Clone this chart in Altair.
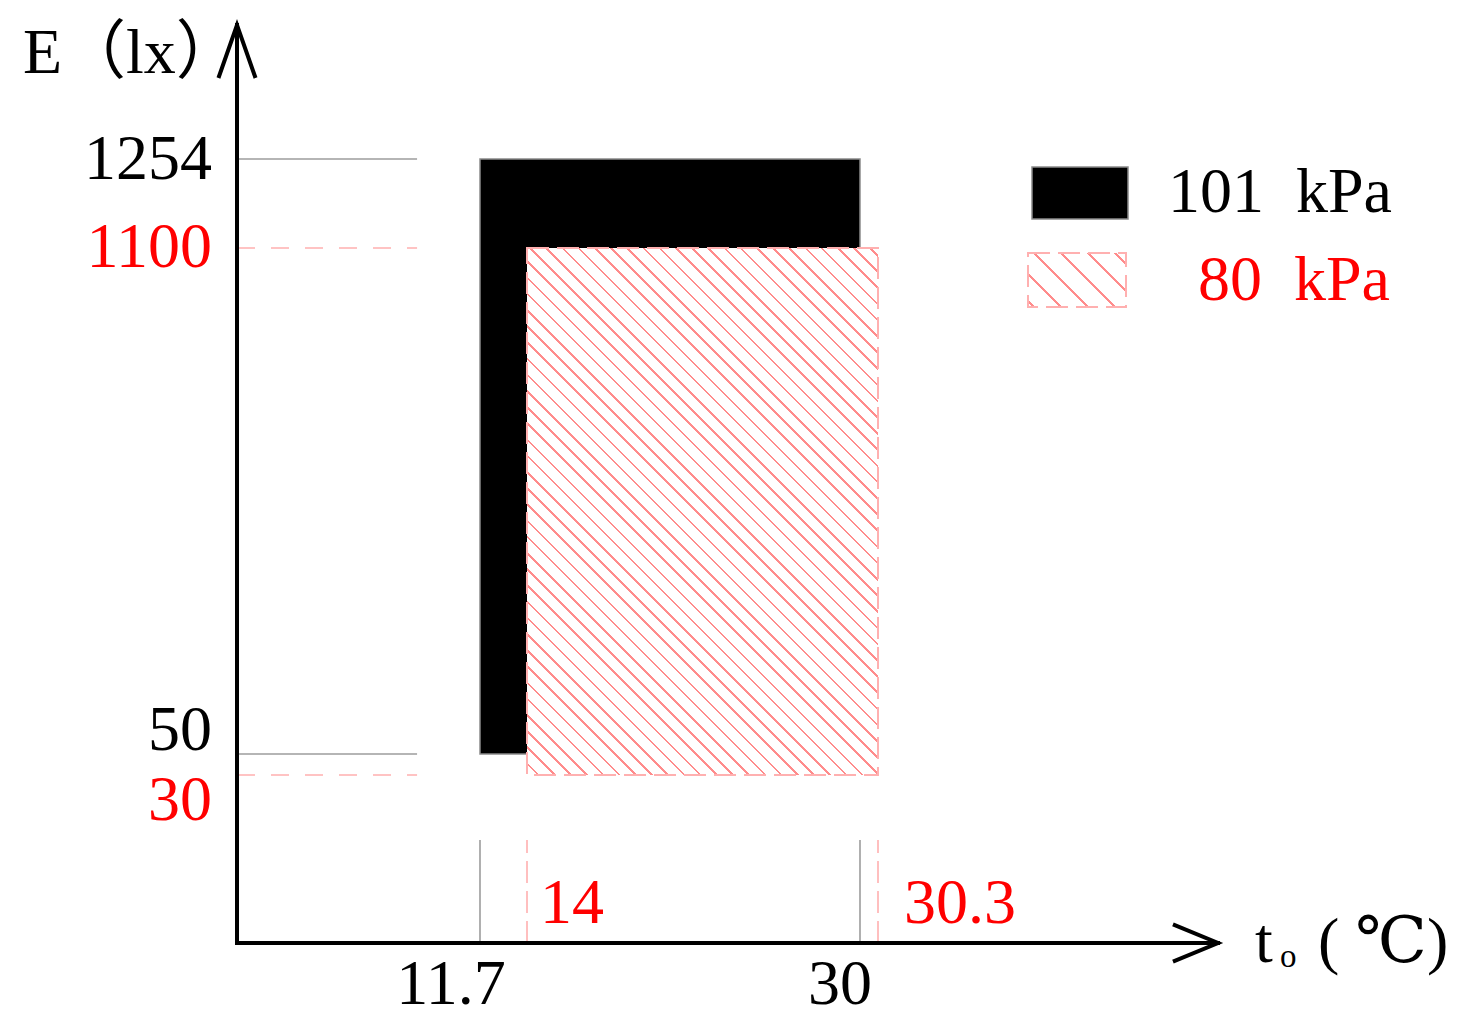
import math
import altair as alt
import pandas as pd

# ---------------- data ----------------
SERIES = ["101 kPa", "80 kPa"]
T_LOW = [11.7, 14.0]      # t_o lower bound (℃)
T_HIGH = [30.0, 30.3]     # t_o upper bound (℃)
E_LOW = [50, 30]          # E lower bound (lx)
E_HIGH = [1254, 1100]     # E upper bound (lx)

Y_TICK_VALUES = [1254, 1100, 50, 30]
Y_TICK_LABELS = ["1254", "1100", "50", "30"]
X_TICK_VALUES = [11.7, 14, 30, 30.3]
X_TICK_LABELS = ["11.7", "14", "30", "30.3"]

Y_TITLE = "E（lx）"
X_TITLE_MAIN = "t"
X_TITLE_SUB = "o"
X_TITLE_UNIT = "( ℃)"

# schematic (non-proportional) axes -> piecewise linear scales
AXIS_X_END = 46
AXIS_Y_END = 1400
X_BREAKS = [0, 11.7, 14, 30, 30.3, AXIS_X_END]
X_PIX = [229, 472, 519, 852, 870, 1210]
Y_BREAKS = [0, 30, 50, 1100, 1254, AXIS_Y_END]
Y_PIX = [935, 767, 746, 240, 151, 17]
LEADER_X_END = 8.67
LEADER_Y_END = 18.4

# ---------------- style ----------------
FONT = "Liberation Serif, DejaVu Serif, Noto Sans CJK SC"
BLACK = "#000000"
RED = "#ff0000"
GRAY = "#9c9c9c"
PINK = "#ff8c8c"
PINK_EDGE = "#ffb0b0"
FS = 64

xs = alt.Scale(domain=X_BREAKS, range=X_PIX, nice=False, zero=False, clamp=False)
ys = alt.Scale(domain=Y_BREAKS, range=Y_PIX, nice=False, zero=False, clamp=False)


def interp(v, brk, pix):
    for i in range(len(brk) - 1):
        if brk[i] <= v <= brk[i + 1]:
            return pix[i] + (v - brk[i]) / (brk[i + 1] - brk[i]) * (pix[i + 1] - pix[i])
    return pix[-1]


def hatch(w, h, step, lw, color, phase):
    """45-degree '\\' hatch as a striped linear gradient (bounding-box units)."""
    L = w + h
    s = L / (w * w + h * h)
    hw = lw * math.sqrt(2) / 2
    stops = [{"offset": 0, "color": "white"}]
    k = math.ceil((-w - phase) / step)
    while True:
        c = phase + k * step
        if c > h:
            break
        t0 = (c - hw + w) / L
        t1 = (c + hw + w) / L
        if t0 > 0 and t1 < 1:
            stops += [
                {"offset": round(t0, 6), "color": "white"},
                {"offset": round(t0, 6), "color": color},
                {"offset": round(t1, 6), "color": color},
                {"offset": round(t1, 6), "color": "white"},
            ]
        k += 1
    stops.append({"offset": 1, "color": "white"})
    return {"gradient": "linear", "x1": 1, "y1": 0,
            "x2": round(1 - w * s, 6), "y2": round(h * s, 6), "stops": stops}


def X(f):
    return alt.X(f, type="quantitative", scale=xs, axis=None)


def Y(f):
    return alt.Y(f, type="quantitative", scale=ys, axis=None)


rects = pd.DataFrame({"series": SERIES, "x": T_LOW, "x2": T_HIGH, "y": E_LOW, "y2": E_HIGH})
layers = []

# leader lines
for i, color, dash_h, dash_v in [(0, GRAY, None, None), (1, PINK_EDGE, [18, 16], [22, 8])]:
    d = pd.DataFrame({"y": [E_HIGH[i], E_LOW[i]], "x": [0, 0], "x2": [LEADER_X_END] * 2})
    kw = dict(color=color, strokeWidth=1.6)
    if dash_h:
        kw["strokeDash"] = dash_h
    layers.append(alt.Chart(d).mark_rule(**kw).encode(x=X("x"), x2=alt.X2("x2"), y=Y("y")))
    d = pd.DataFrame({"x": [T_LOW[i], T_HIGH[i]], "y": [0, 0], "y2": [LEADER_Y_END] * 2})
    kw = dict(color=color, strokeWidth=1.6)
    if dash_v:
        kw["strokeDash"] = dash_v
    layers.append(alt.Chart(d).mark_rule(**kw).encode(x=X("x"), y=Y("y"), y2=alt.Y2("y2")))

# black rectangle (101 kPa)
layers.append(
    alt.Chart(rects.iloc[[0]]).mark_rect(color=BLACK, stroke="#8a8a8a", strokeWidth=1.5)
    .encode(x=X("x"), x2=alt.X2("x2"), y=Y("y"), y2=alt.Y2("y2"))
)

# hatched rectangle (80 kPa)
w = interp(T_HIGH[1], X_BREAKS, X_PIX) - interp(T_LOW[1], X_BREAKS, X_PIX)
h = interp(E_LOW[1], Y_BREAKS, Y_PIX) - interp(E_HIGH[1], Y_BREAKS, Y_PIX)
layers.append(
    alt.Chart(rects.iloc[[1]]).mark_rect(fill=hatch(w, h, 16.2, 1.7, PINK, -3),
                                         stroke=PINK_EDGE, strokeWidth=2, strokeDash=[22, 8])
    .encode(x=X("x"), x2=alt.X2("x2"), y=Y("y"), y2=alt.Y2("y2"))
)

# axes with arrows
ax = pd.DataFrame({"x": [0, 0], "x2": [AXIS_X_END, 0], "y": [0, 0], "y2": [0, AXIS_Y_END]})
layers.append(alt.Chart(ax).mark_rule(color=BLACK, strokeWidth=4, strokeCap="square")
              .encode(x=X("x"), x2=alt.X2("x2"), y=Y("y"), y2=alt.Y2("y2")))
layers.append(alt.Chart(pd.DataFrame({"x": [0], "y": [AXIS_Y_END]}))
              .mark_point(shape="M-0.7,2L0,0L0.7,2", size=2809, filled=False, color=BLACK,
                          strokeWidth=4, opacity=1)
              .encode(x=X("x"), y=Y("y")))
layers.append(alt.Chart(pd.DataFrame({"x": [AXIS_X_END], "y": [0]}))
              .mark_point(shape="M-1.7,-0.7L0,0L-1.7,0.7", size=2809, filled=False, color=BLACK,
                          strokeWidth=4, opacity=1)
              .encode(x=X("x"), y=Y("y")))

# y tick labels
y_style = [(BLACK, 20), (RED, 19), (BLACK, -4), (RED, 45)]
for v, lab, (col, dy) in zip(Y_TICK_VALUES, Y_TICK_LABELS, y_style):
    d = pd.DataFrame({"x": [0], "y": [v], "t": [lab]})
    layers.append(alt.Chart(d).mark_text(font=FONT, fontSize=FS, color=col, align="right",
                                         baseline="alphabetic", dx=-25, dy=dy)
                  .encode(x=X("x"), y=Y("y"), text="t:N"))

# x tick labels
x_style = [(BLACK, "center", -29, 61), (RED, "left", 13, -20),
           (BLACK, "center", -20, 61), (RED, "left", 26, -20)]
for v, lab, (col, al, dx, dy) in zip(X_TICK_VALUES, X_TICK_LABELS, x_style):
    d = pd.DataFrame({"x": [v], "y": [0], "t": [lab]})
    layers.append(alt.Chart(d).mark_text(font=FONT, fontSize=FS, color=col, align=al,
                                         baseline="alphabetic", dx=dx, dy=dy)
                  .encode(x=X("x"), y=Y("y"), text="t:N"))

one = pd.DataFrame({"a": [0]})


def txt(s, x, y, col=BLACK, size=FS, align="left"):
    return alt.Chart(one).mark_text(text=s, font=FONT, fontSize=size, color=col, align=align,
                                    baseline="alphabetic").encode(x=alt.value(x), y=alt.value(y))


# axis titles
layers.append(txt(Y_TITLE, 15, 65))
layers.append(txt(X_TITLE_MAIN, 1247, 954))
layers.append(txt(X_TITLE_SUB, 1272, 959, size=33))
layers.append(txt(X_TITLE_UNIT, 1310, 954))

# legend
NB = "\u00a0\u00a0"
layers.append(alt.Chart(one).mark_rect(color=BLACK, stroke="#8a8a8a", strokeWidth=1.5)
              .encode(x=alt.value(1024), x2=alt.value(1120), y=alt.value(159), y2=alt.value(211)))
layers.append(alt.Chart(one).mark_rect(fill=hatch(98, 54, 27, 1.7, PINK, -6),
                                       stroke=PINK_EDGE, strokeWidth=2, strokeDash=[22, 8])
              .encode(x=alt.value(1020), x2=alt.value(1118), y=alt.value(245), y2=alt.value(299)))
layers.append(txt(SERIES[0].replace(" ", NB), 1160, 204))
layers.append(txt(SERIES[1].replace(" ", NB), 1382, 292, col=RED, align="right"))

chart = alt.layer(*layers).properties(
    width=1444, height=1012, autosize=alt.AutoSizeParams(type="none"), padding=0
).configure_view(stroke=None)

chart.save("out.html", embed_options={"renderer": "svg", "actions": False})
